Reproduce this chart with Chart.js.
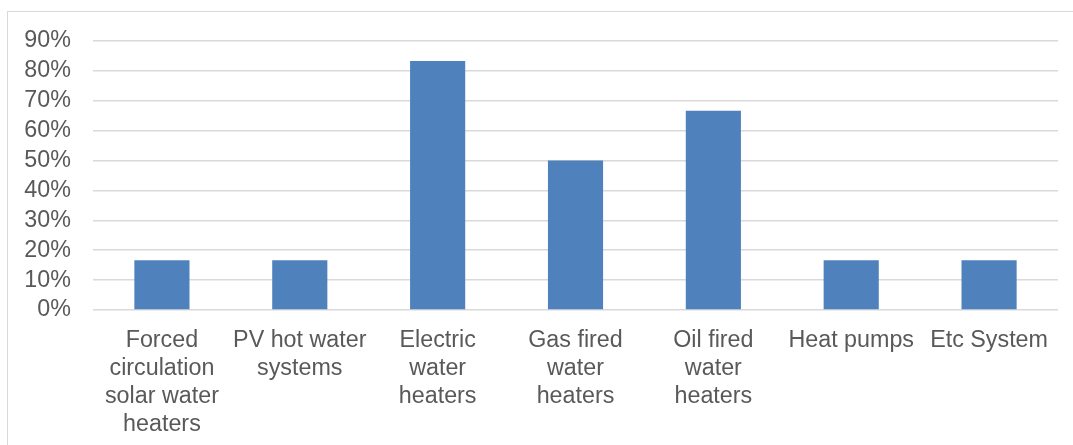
<!DOCTYPE html>
<html>
<head>
<meta charset="utf-8">
<script src="https://cdn.jsdelivr.net/npm/chart.js@4/dist/chart.umd.min.js"></script>
<style>
  html, body { margin: 0; padding: 0; background: #fff; overflow: hidden; }
  #frame { position: absolute; left: 7px; top: 11px; width: 1200px; height: 600px; border: 1.5px solid #d9d9d9; }
  #wrap { position: absolute; left: 0; top: 0; width: 1073px; height: 445px; }
</style>
</head>
<body>
<div id="frame"></div>
<div id="wrap"><canvas id="chart" width="1073" height="445"></canvas></div>
<script>
// categories (multi-line, as wrapped in the picture)
const categories = [
  ["Forced", "circulation", "solar water", "heaters"],
  ["PV hot water", "systems"],
  ["Electric", "water", "heaters"],
  ["Gas fired", "water", "heaters"],
  ["Oil fired", "water", "heaters"],
  "Heat pumps",
  "Etc System"
];
// share of respondents (fraction)
const shares = [0.1667, 0.1667, 0.8333, 0.5, 0.6667, 0.1667, 0.1667];
const yTicks = [0, 0.1, 0.2, 0.3, 0.4, 0.5, 0.6, 0.7, 0.8, 0.9];

const textColor = '#595959';
const fontFamily = '"Liberation Sans", Arial, sans-serif';

const ctx = document.getElementById('chart').getContext('2d');
new Chart(ctx, {
  type: 'bar',
  data: {
    labels: categories,
    datasets: [{
      data: shares,
      backgroundColor: '#4f81bd',
      borderWidth: 0,
      barPercentage: 0.4,
      categoryPercentage: 1
    }]
  },
  options: {
    responsive: false,
    animation: false,
    layout: { padding: { top: 41, right: 15, left: 0, bottom: 0 } },
    plugins: { legend: { display: false }, tooltip: { enabled: false } },
    scales: {
      x: {
        grid: { display: false },
        border: { display: false },
        ticks: {
          color: textColor,
          font: { family: fontFamily, size: 23.3, lineHeight: 1.2 },
          padding: 9,
          maxRotation: 0,
          autoSkip: false
        },
        afterFit: (scale) => { scale.height = 135; }
      },
      y: {
        min: 0,
        max: 0.9,
        afterBuildTicks: (scale) => { scale.ticks = yTicks.map(v => ({ value: v })); },
        grid: { color: '#d9d9d9', lineWidth: 1.5, drawTicks: false },
        border: { display: false },
        ticks: {
          color: textColor,
          font: { family: fontFamily, size: 23.3 },
          padding: 22,
          autoSkip: false,
          callback: (v) => Math.round(v * 100) + '%'
        },
        afterFit: (scale) => { scale.width = 93; }
      }
    }
  }
});
</script>
</body>
</html>
